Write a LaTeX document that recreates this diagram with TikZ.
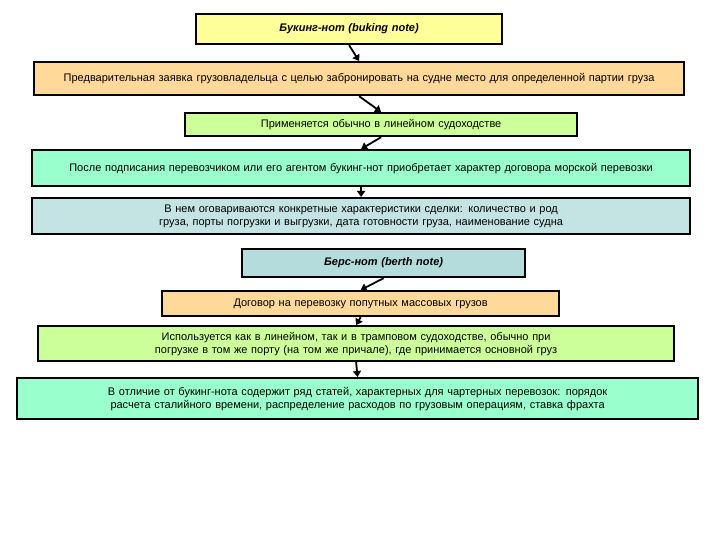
\documentclass[tikz,border=0pt]{standalone}
\usepackage{fontspec}
\setmainfont{Liberation Sans}
\usetikzlibrary{arrows.meta}
\definecolor{cyel}{HTML}{FFFF99}
\definecolor{corg}{HTML}{FFD99A}
\definecolor{cgrn}{HTML}{CCFF99}
\definecolor{caq}{HTML}{99FFCC}
\definecolor{cblu}{HTML}{C4E4E4}
\definecolor{cblu2}{HTML}{B4DCDC}
\tikzset{bx/.style={draw=black,line width=2.2pt,inner sep=0pt,align=center,font=\fontsize{11}{13}\selectfont,anchor=north west},
 ar/.style={-{Triangle[length=6pt,width=8pt]},line width=1.8pt}}
\newcommand{\bxnode}[7]{\node[bx,fill=#6,minimum width=#4-#2,minimum height=#5-#3,text width=#4-#2-10] (#1) at (#2,#3) {#7};}
\begin{document}
\begin{tikzpicture}[x=1pt,y=-1pt]
\useasboundingbox (0,0) rectangle (720,540);
\bxnode{a}{195}{13}{501}{43}{cyel}{\textit{\textbf{Букинг-нот (buking note)}}}
\bxnode{b}{33}{61}{683}{94}{corg}{Предварительная заявка грузовладельца с целью забронировать на судне место для определенной партии груза}
\bxnode{c}{184}{112}{576}{135}{cgrn}{Применяется обычно в линейном судоходстве}
\bxnode{d}{31}{149}{689}{185}{caq}{После подписания перевозчиком или его агентом букинг-нот приобретает характер договора морской перевозки}
\bxnode{e}{31}{197}{689}{233}{cblu}{В нем оговариваются конкретные характеристики сделки: количество и род груза, порты погрузки и выгрузки, дата готовности груза, наименование судна}
\bxnode{f}{241}{248}{524}{276}{cblu2}{\textit{\textbf{Берс-нот (berth note)}}}
\bxnode{g}{161}{290}{558}{315}{corg}{Договор на перевозку попутных массовых грузов}
\bxnode{h}{37}{325}{673}{360}{cgrn}{Используется как в линейном, так и в трамповом судоходстве, обычно при погрузке в том же порту (на том же причале), где принимается основной груз}
\bxnode{i}{16}{377}{697}{418}{caq}{В отличие от букинг-нота содержит ряд статей, характерных для чартерных перевозок: порядок расчета сталийного времени, распределение расходов по грузовым операциям, ставка фрахта}
\foreach \u/\v in {a/b,b/c,c/d,d/e,f/g,g/h,h/i}
  \draw[ar] (\u.south) -- (\v.north);
\end{tikzpicture}
\end{document}
